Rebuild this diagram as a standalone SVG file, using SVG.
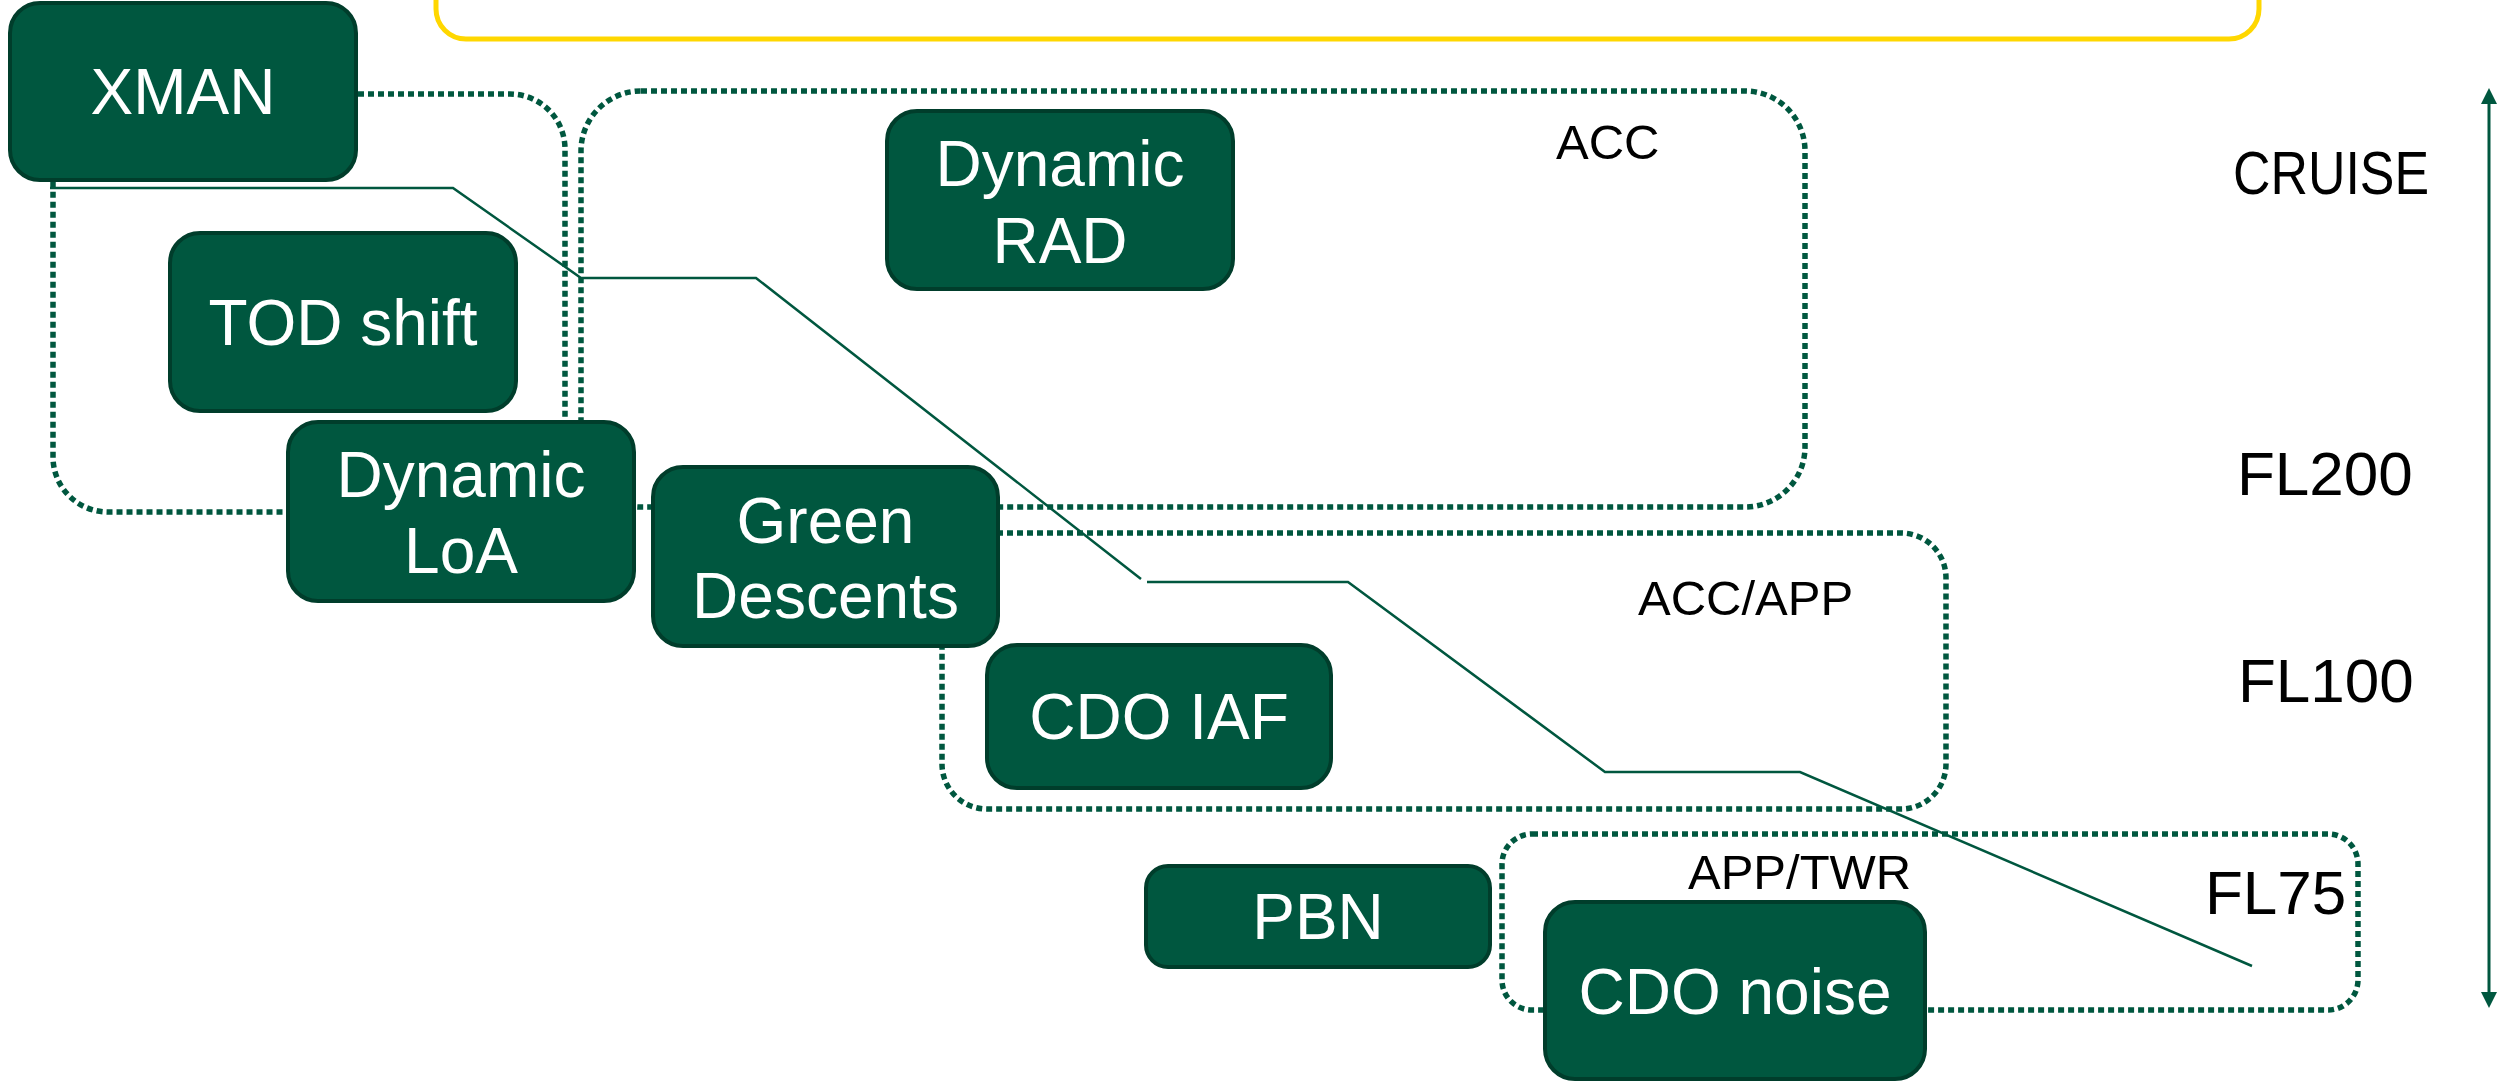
<svg xmlns="http://www.w3.org/2000/svg" width="2509" height="1081" viewBox="0 0 2509 1081">
  <style>
    .zone { fill: none; stroke: #00573F; stroke-width: 5.5; stroke-dasharray: 6 4; }
    .node rect { fill: #00573F; stroke: #003D2B; stroke-width: 4; }
    .node text { fill: #FFFFFF; font-family: "Liberation Sans", Arial, sans-serif; font-size: 64px; text-anchor: middle; }
    .lbl { fill: #000000; font-family: "Liberation Sans", Arial, sans-serif; font-size: 49px; }
    .lvl { fill: #000000; font-family: "Liberation Sans", Arial, sans-serif; font-size: 62px; }
    .descent { fill: none; stroke: #00573F; stroke-width: 2.5; }
  </style>
  <defs>
    <marker id="arrowhead" viewBox="0 0 10 10" refX="0" refY="5" markerUnits="userSpaceOnUse" markerWidth="16" markerHeight="16" orient="auto-start-reverse">
      <path d="M0,0 L10,5 L0,10 z" fill="#00573F"/>
    </marker>
  </defs>
  <rect width="2509" height="1081" fill="#FFFFFF"/>

  <!-- title frame (text cut off above the canvas) -->
  <rect id="title-frame" x="436" y="-100" width="1823" height="139" rx="30" fill="none" stroke="#FFD700" stroke-width="5"/>

  <!-- zones -->
  <g id="zones">
    <rect id="zone-xman" class="zone" x="53" y="94" width="512" height="418" rx="55"/>
    <rect id="zone-acc" class="zone" x="581" y="91" width="1224" height="416" rx="60"/>
    <rect id="zone-accapp" class="zone" x="942" y="533" width="1004" height="276" rx="45"/>
    <rect id="zone-apptwr" class="zone" x="1502" y="834" width="856" height="176" rx="30"/>
  </g>

  <!-- connectors: descent profile and level axis -->
  <g id="connectors">
    <path class="descent" d="M50,188 H453 L581,278 H756 L1141,579"/>
    <path class="descent" d="M1147,582 H1348 L1605,772 H1800 L2252,966"/>
    <line x1="2489" y1="104" x2="2489" y2="992" stroke="#00573F" stroke-width="3" marker-start="url(#arrowhead)" marker-end="url(#arrowhead)"/>
  </g>

  <!-- labels -->
  <g id="labels">
    <text class="lbl" x="1556" y="159">ACC</text>
    <text class="lbl" x="1638" y="615">ACC/APP</text>
    <text class="lbl" x="1688" y="889">APP/TWR</text>
    <text class="lvl" x="2233" y="194" textLength="196" lengthAdjust="spacingAndGlyphs">CRUISE</text>
    <text class="lvl" x="2237" y="495">FL200</text>
    <text class="lvl" x="2238" y="702">FL100</text>
    <text class="lvl" x="2205" y="914">FL75</text>
  </g>

  <!-- nodes -->
  <g id="node-xman" class="node">
    <rect x="10" y="3" width="346" height="177" rx="30"/>
    <text x="183" y="114">XMAN</text>
  </g>
  <g id="node-dynamic-rad" class="node">
    <rect x="887" y="111" width="346" height="178" rx="30"/>
    <text x="1060" y="186">Dynamic</text>
    <text x="1060" y="263">RAD</text>
  </g>
  <g id="node-tod-shift" class="node">
    <rect x="170" y="233" width="346" height="178" rx="30"/>
    <text x="343" y="345">TOD shift</text>
  </g>
  <g id="node-dynamic-loa" class="node">
    <rect x="288" y="422" width="346" height="179" rx="30"/>
    <text x="461" y="497">Dynamic</text>
    <text x="461" y="573">LoA</text>
  </g>
  <g id="node-green-descents" class="node">
    <rect x="653" y="467" width="345" height="179" rx="30"/>
    <text x="825.5" y="543">Green</text>
    <text x="825.5" y="618">Descents</text>
  </g>
  <g id="node-cdo-iaf" class="node">
    <rect x="987" y="645" width="344" height="143" rx="30"/>
    <text x="1159" y="739">CDO IAF</text>
  </g>
  <g id="node-pbn" class="node">
    <rect x="1146" y="866" width="344" height="101" rx="22"/>
    <text x="1318" y="939">PBN</text>
  </g>
  <g id="node-cdo-noise" class="node">
    <rect x="1545" y="902" width="380" height="177" rx="30"/>
    <text x="1735" y="1014">CDO noise</text>
  </g>
</svg>
